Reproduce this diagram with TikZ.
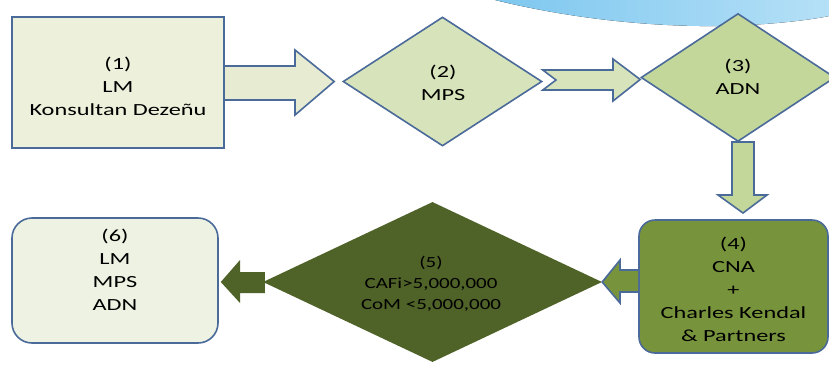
\documentclass[tikz,border=0pt]{standalone}
\usepackage{fontspec}
\setmainfont{Carlito}[FakeStretch=1.43]
\newfontfamily\narrowcal{Carlito}[FakeStretch=1.35]
\usetikzlibrary{shapes.geometric,calc}
\definecolor{bord}{HTML}{4A6A9A}
\definecolor{boxone}{HTML}{EDF0DB}
\definecolor{boxsix}{HTML}{EEF2E2}
\definecolor{arrone}{HTML}{E6EBD2}
\definecolor{lgreen}{HTML}{D7E3BA}
\definecolor{mgreen}{HTML}{C4D79B}
\definecolor{olive}{HTML}{77933C}
\definecolor{dolive}{HTML}{4F6228}
\definecolor{swA}{HTML}{7EC7EF}
\definecolor{swB}{HTML}{B5E0F7}
\tikzset{
  txt/.style={align=center, inner sep=0pt, font=\fontsize{17}{23}\selectfont, text=black},
  smalltxt/.style={align=center, inner sep=0pt, font=\narrowcal\fontsize{15.5}{21}\selectfont, text=black},
  outline/.style={draw=bord, line width=1.6pt, line join=miter},
  dia/.style={diamond, inner sep=0pt, aspect=1.6},
  blockarrow/.style={outline},
}
\begin{document}
\begin{tikzpicture}[x=1pt,y=-1pt]
\useasboundingbox (0,0) rectangle (829,365);
\clip (0,0) rectangle (829,365);
\fill[white] (0,0) rectangle (829,365);
% background swoosh
\fill[left color=swA, right color=swB] (495,0) .. controls (560,16) and (640,27) .. (720,26) .. controls (770,25) and (810,20) .. (829,16) -- (829,0) -- cycle;

% nodes
\node[dia, outline, fill=lgreen, minimum width=199pt, minimum height=129pt] (d2) at (442.5,81.5) {};
\node[dia, outline, fill=mgreen, minimum width=194pt, minimum height=128pt] (d3) at (738,77.5) {};
\node[dia, fill=dolive, minimum width=339pt, minimum height=160pt] (d5) at (432.5,282) {};

% arrow 1 -> 2
\path[blockarrow, fill=arrone] (224,66) -- (295,66) -- (295,50) -- ($(d2.west)+(-8,0)$) -- (295,115) -- (295,100) -- (224,100) -- cycle;
% arrow 2 -> 3
\path[blockarrow, fill=lgreen] (d2.east |- 0,70) -- (613,70) -- (613,59) -- ($(d3.west)+(0,2)$) -- (613,101) -- (613,90) -- (d2.east |- 0,90) -- (556,80) -- cycle;
% arrow 3 -> 4
\path[blockarrow, fill=mgreen] (732,142) -- (754,142) -- (754,195) -- (767,195) -- (743,213) -- (718,195) -- (732,195) -- cycle;

\node[rectangle, outline, fill=boxone, minimum width=212pt, minimum height=131pt] (b1) at (118,82.5) {};
\node[rectangle, outline, fill=olive, rounded corners=16pt, minimum width=189pt, minimum height=133pt] (b4) at (733.5,286.5) {};
\node[rectangle, outline, fill=boxsix, rounded corners=20pt, minimum width=206pt, minimum height=125pt] (b6) at (115,280.5) {};

% arrow 4 -> 5
\path[blockarrow, fill=olive] (b4.west |- 0,270) -- (620,270) -- (620,260) -- (d5.east) -- (620,303) -- (620,292) -- (b4.west |- 0,292);
% arrow 5 -> 6
\fill[dolive] ($(d5.west)+(2,-10)$) -- (240,272) -- (240,260) -- ($(b6.east)+(2,1.5)$) -- (240,303) -- (240,293) -- ($(d5.west)+(2,11)$) -- cycle;

% texts
\node[txt] (t1) at (118,86) {(1)\\LM\\Konsultan Dezeñu};
\node[txt] (t2) at (443,83) {(2)\\MPS};
\node[txt] (t3) at (738,77) {(3)\\ADN};
\node[txt] (t4) at (733.5,289) {(4)\\CNA\\+\\Charles Kendal\\\& Partners};
\node[smalltxt] (t5) at (431,284) {(5)\\CAFi>5,000,000\\CoM <5,000,000};
\node[txt] (t6) at (115,270) {(6)\\LM\\MPS\\ADN};
\end{tikzpicture}
\end{document}
